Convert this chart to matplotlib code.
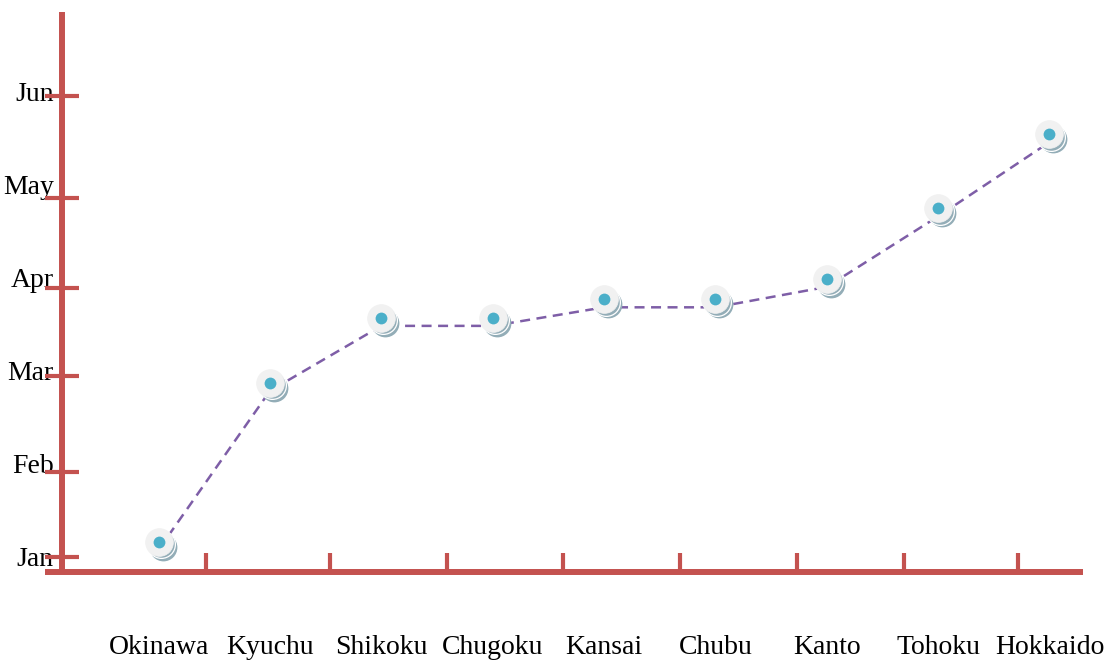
import numpy as np
import matplotlib.pyplot as plt
from matplotlib import transforms

# sakura bloom front, value = month index (0 = Jan)
regions = ['Okinawa', 'Kyuchu', 'Shikoku', 'Chugoku', 'Kansai',
           'Chubu', 'Kanto', 'Tohoku', 'Hokkaido']
months = ['Jan', 'Feb', 'Mar', 'Apr', 'May', 'Jun']
bloom = [0.07, 1.78, 2.48, 2.48, 2.68, 2.68, 2.90, 3.66, 4.46]

RED = '#c4524f'
PURPLE = '#7e5ea7'

# hand drawn look: tick marks sit a little off the grid
xtick_pos = [0.425, 1.538, 2.589, 3.631, 4.682, 5.733, 6.694, 7.717]
ytick_pos = [-0.01, 0.905, 1.94, 2.89, 3.86, 4.96]

plt.rcParams['font.family'] = ['Liberation Serif', 'DejaVu Serif']

fig = plt.figure(figsize=(11.17, 6.61), dpi=100)
ax = fig.add_axes([62 / 1117, 89 / 661, 1021 / 1117, 560 / 661])

x = np.arange(len(regions))
ax.plot(x, bloom, ls=(0, (4, 2.6)), color=PURPLE, lw=1.8, zorder=2)

# markers drawn slightly above the line, like little stacked coins
def shift(dx, dy):
    return ax.transData + transforms.ScaledTranslation(dx / 100, dy / 100,
                                                       fig.dpi_scale_trans)

ax.plot(x, bloom, 'o', ms=20, color='#93adb7', mec='none',
        transform=shift(4, 3), zorder=3)
ax.plot(x, bloom, 'o', ms=20, color='#93adb7', mec='white', mew=0.9,
        transform=shift(2, 5.5), zorder=3)
ax.plot(x, bloom, 'o', ms=20, color='#f1f1f1', mec='#f1f1f1', mew=0.5,
        transform=shift(0, 8), zorder=4)
ax.plot(x, bloom, 'o', ms=8.5, color='#4bafc9', mec='none',
        transform=shift(0, 8), zorder=5)

ax.set_xlim(-0.868, 8.301)
ax.set_ylim(-0.172, 5.862)

for s in ['top', 'right']:
    ax.spines[s].set_visible(False)
for s in ['left', 'bottom']:
    ax.spines[s].set_color(RED)
    ax.spines[s].set_linewidth(4.3)
    ax.spines[s].set_capstyle('butt')
ax.spines['bottom'].set_bounds(-1.021, 8.301)

ax.set_xticks(x)
ax.set_xticklabels(regions)
ax.set_xticks(xtick_pos, minor=True)
ax.set_yticks(ytick_pos, minor=True)
ax.set_yticks(range(len(months)))
ax.set_yticklabels(months)

ax.tick_params(axis='x', which='minor', direction='in', length=14,
               width=3, color=RED)
ax.tick_params(axis='y', which='minor', direction='inout', length=24,
               width=3, color=RED)
ax.tick_params(axis='x', which='major', length=0, pad=45, labelsize=20)
ax.tick_params(axis='y', which='major', length=0, pad=6, labelsize=20)

fig.savefig('out.png', dpi=100)
